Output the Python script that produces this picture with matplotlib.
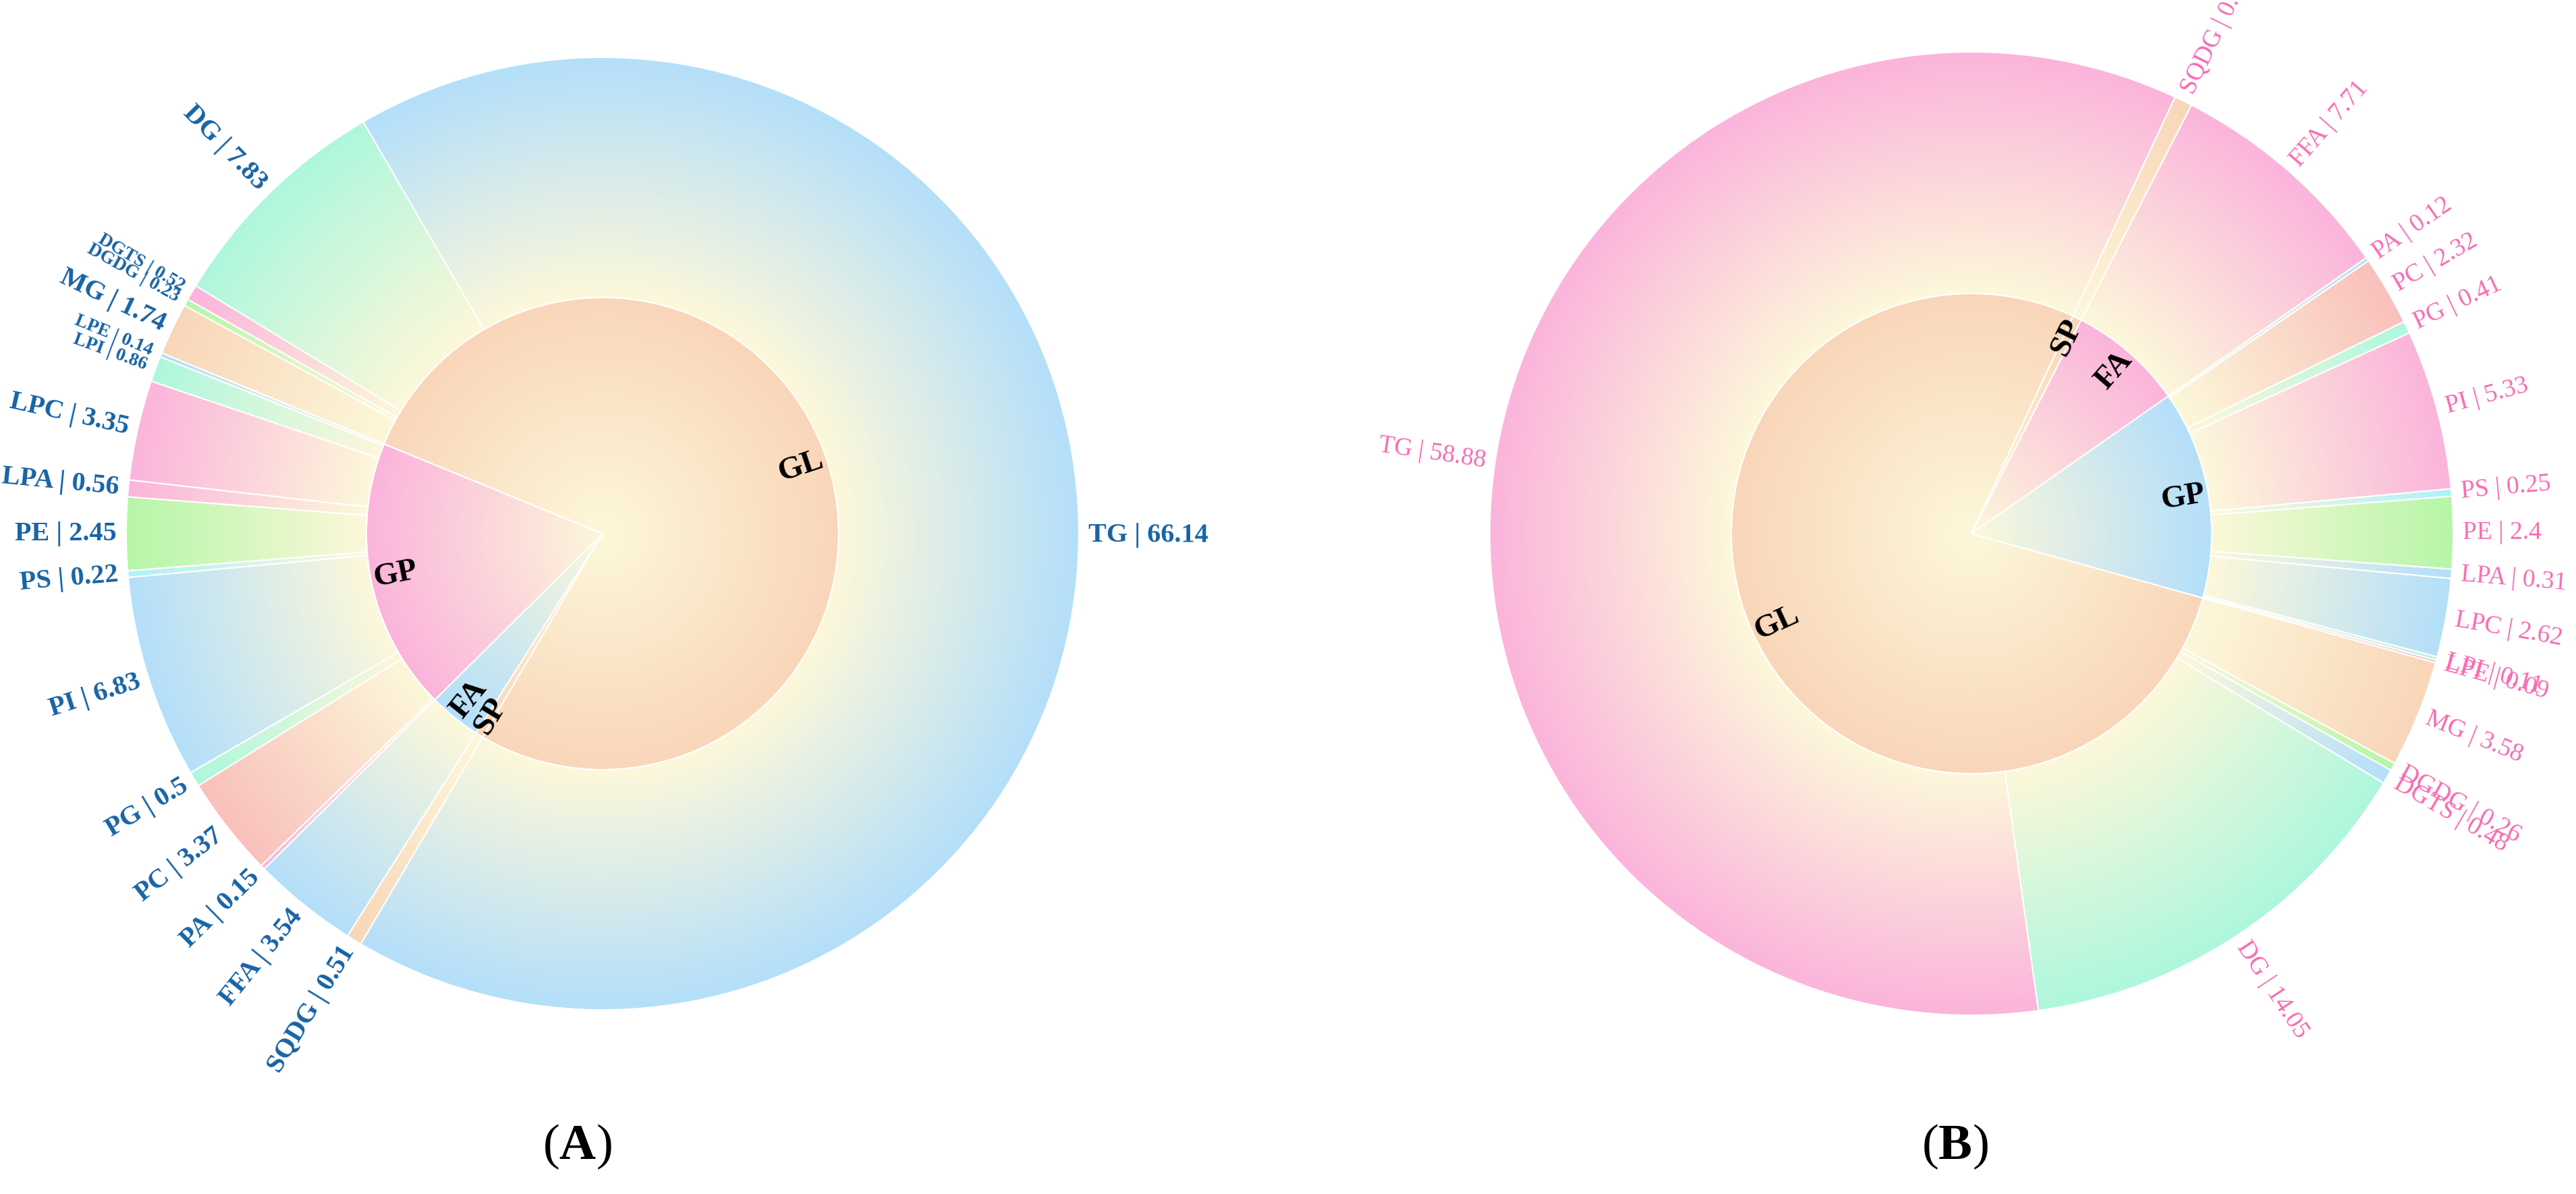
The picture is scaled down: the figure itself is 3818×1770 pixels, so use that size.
import numpy as np
import matplotlib
matplotlib.use("Agg")
import matplotlib.pyplot as plt
from matplotlib.patches import Wedge
from matplotlib.colors import to_rgb

# ----------------------------
# Data
# ----------------------------

subclasses = ["TG", "DG", "DGTS", "DGDG", "MG",
              "LPE", "LPI", "LPC", "LPA", "PE", "PS", "PI", "PG", "PC", "PA",
              "FFA", "SQDG"]
class_of = ["GL"] * 5 + ["GP"] * 10 + ["FA", "SP"]
classes = ["GL", "GP", "FA", "SP"]

values_a = [66.14, 7.83, 0.52, 0.23, 1.74,
            0.14, 0.86, 3.35, 0.56, 2.45, 0.22, 6.83, 0.5, 3.37, 0.15,
            3.54, 0.51]
values_b = [58.88, 14.05, 0.48, 0.26, 3.58,
            0.09, 0.11, 2.62, 0.31, 2.4, 0.25, 5.33, 0.41, 2.32, 0.12,
            7.71, 0.6]

# ----------------------------
# Colours
# ----------------------------

BLUE = "#b4dffa"
MINT = "#aef7dd"
PINK = "#fbb4dc"
GREEN = "#b6f6a8"
PEACH = "#f9d6b9"
CYAN = "#aef2f8"
SALMON = "#f9c1bc"
CREAM = "#fdf8da"

colors_a_outer = [BLUE, MINT, PINK, GREEN, PEACH,
                  BLUE, MINT, PINK, PINK, GREEN, CYAN, BLUE, MINT, SALMON, PINK,
                  BLUE, PEACH]
colors_a_inner = [PEACH, PINK, BLUE, PEACH]

colors_b_outer = [PINK, MINT, BLUE, GREEN, PEACH,
                  PINK, MINT, BLUE, BLUE, GREEN, CYAN, PINK, MINT, SALMON, BLUE,
                  PINK, PEACH]
colors_b_inner = [PEACH, BLUE, PINK, PEACH]

W, H = 3818, 1770
SERIF = ["Liberation Serif", "DejaVu Serif"]

plt.rcParams["mathtext.fontset"] = "custom"
plt.rcParams["mathtext.rm"] = "Liberation Serif"
plt.rcParams["mathtext.bf"] = "Liberation Serif:bold"


def gradient(cx, cy, r0, r1, extent_r, color, n=420):
    xs = np.linspace(cx - extent_r, cx + extent_r, n)
    ys = np.linspace(cy - extent_r, cy + extent_r, n)
    X, Y = np.meshgrid(xs, ys)
    rho = np.hypot(X - cx, Y - cy)
    t = np.clip((rho - r0) / (r1 - r0), 0, 1)[..., None]
    c0 = np.array(to_rgb(CREAM))
    c1 = np.array(to_rgb(color))
    return c0 * (1 - t) + c1 * t


def place_label(ax, cx, cy, r, mid, text, outward, **kw):
    rad = np.deg2rad(mid)
    x = cx + r * np.cos(rad)
    y = cy + r * np.sin(rad)
    right = np.cos(rad) >= 0
    rot = mid if right else mid - 180
    rot = (rot + 180) % 360 - 180
    if outward:
        ha = "left" if right else "right"
    else:
        ha = "right" if right else "left"
    ax.text(x, y, text, rotation=rot, rotation_mode="anchor",
            ha=ha, va="center", family=SERIF, **kw)


def sunburst(ax, cx, cy, r_in, r_out, values, colors_out, colors_in, start,
             label_color, weight, small=(), fs=28, fs_small=19):
    total = sum(values)
    scale = 360.0 / total
    ext = r_out

    # inner ring (classes)
    inner_vals = [sum(v for v, c in zip(values, class_of) if c == k) for k in classes]
    a = start
    for name, v, col in zip(classes, inner_vals, colors_in):
        t1, t2 = a, a + v * scale
        w = Wedge((cx, cy), r_in, t1, t2, facecolor="none",
                  edgecolor="white", linewidth=1.4, zorder=3)
        ax.add_patch(w)
        im = ax.imshow(gradient(cx, cy, 0, r_in, ext, col),
                       extent=(cx - ext, cx + ext, cy - ext, cy + ext),
                       origin="lower", interpolation="bilinear", zorder=2)
        im.set_clip_path(w)
        place_label(ax, cx, cy, r_in - 5, (t1 + t2) / 2, name, False,
                    fontsize=34, fontweight="bold", color="black", zorder=5)
        a = t2

    # outer ring (subclasses)
    a = start
    for name, v, col in zip(subclasses, values, colors_out):
        t1, t2 = a, a + v * scale
        w = Wedge((cx, cy), r_out, t1, t2, width=r_out - r_in,
                  facecolor="none", edgecolor="white", linewidth=1.4, zorder=3)
        ax.add_patch(w)
        im = ax.imshow(gradient(cx, cy, r_in, r_out, ext, col),
                       extent=(cx - ext, cx + ext, cy - ext, cy + ext),
                       origin="lower", interpolation="bilinear", zorder=2)
        im.set_clip_path(w)
        size = fs_small if name in small else fs
        place_label(ax, cx, cy, r_out + 14, (t1 + t2) / 2, f"{name} | {v:g}", True,
                    fontsize=size, fontweight=weight, color=label_color, zorder=5)
        a = t2


fig = plt.figure(figsize=(W / 100, H / 100), dpi=100)
fig.patch.set_facecolor("white")
ax = fig.add_axes([0, 0, 1, 1])
ax.set_xlim(0, W)
ax.set_ylim(0, H)
ax.axis("off")

# Panel A
sunburst(ax, 893, 979, 350, 706, values_a, colors_a_outer, colors_a_inner,
         start=239.5, label_color="#1763a6", weight="bold",
         small=("DGTS", "DGDG", "LPE", "LPI"), fs=29, fs_small=20)

# Panel B
sunburst(ax, 2922, 979, 356, 714, values_b, colors_b_outer, colors_b_inner,
         start=65.0, label_color="#f86bb2", weight="normal", fs=27)

fig.text(0.224, 0.029, r"($\mathbf{A}$)", fontsize=54, family=SERIF,
         ha="center", va="baseline")
fig.text(0.759, 0.029, r"($\mathbf{B}$)", fontsize=54, family=SERIF,
         ha="center", va="baseline")

fig.savefig("out.png", dpi=100, facecolor="white")
